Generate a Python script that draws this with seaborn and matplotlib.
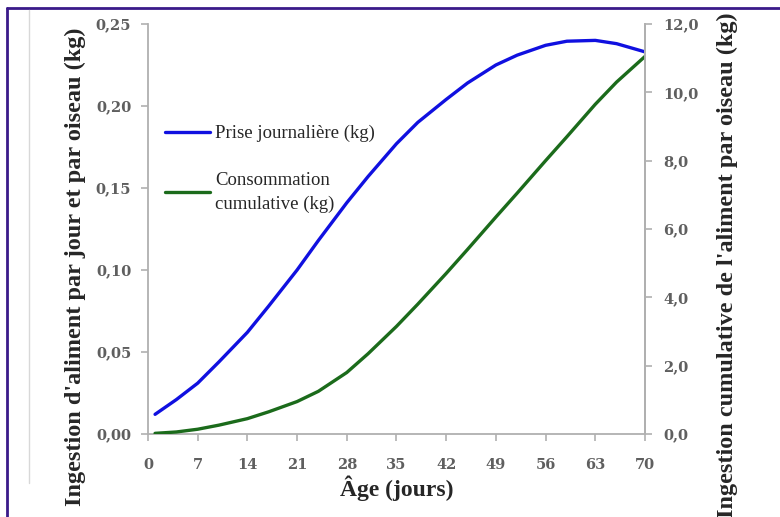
import pandas as pd
import matplotlib.pyplot as plt
import seaborn as sns
from matplotlib.lines import Line2D

# values
jours = [1, 4, 7, 10, 14, 17, 21, 24, 28, 31, 35, 38, 42, 45, 49, 52, 56, 59, 63, 66, 70]
prise_journaliere = [0.012, 0.021, 0.031, 0.044, 0.062, 0.078, 0.100, 0.118, 0.141, 0.157,
                     0.177, 0.190, 0.204, 0.214, 0.225, 0.231, 0.237, 0.2395, 0.240, 0.238, 0.233]
consommation_cumulative = [0.02, 0.06, 0.14, 0.26, 0.45, 0.65, 0.95, 1.25, 1.80, 2.35,
                           3.15, 3.80, 4.70, 5.40, 6.35, 7.05, 8.00, 8.70, 9.65, 10.30, 11.05]
x_ticks = [0, 7, 14, 21, 28, 35, 42, 49, 56, 63, 70]
y1_ticks = [0.00, 0.05, 0.10, 0.15, 0.20, 0.25]
y2_ticks = [0, 2, 4, 6, 8, 10, 12]

df = pd.DataFrame({"jours": jours, "prise": prise_journaliere, "cumul": consommation_cumulative})

sns.set_style("white")
plt.rcParams['font.family'] = ['Liberation Serif', 'DejaVu Serif']

grey = "#b0b0b0"
tick_grey = "#5f5f5f"

fig = plt.figure(figsize=(7.8, 5.17), dpi=100)
ax = fig.add_axes([0.1897, 0.1605, 0.6372, 0.7931])
ax2 = ax.twinx()

sns.lineplot(data=df, x="jours", y="prise", ax=ax, color="#1010e0", linewidth=2.4,
             label="Prise journalière (kg)", legend=False)
sns.lineplot(data=df, x="jours", y="cumul", ax=ax2, color="#1b6b1b", linewidth=2.4,
             label="Consommation\ncumulative (kg)", legend=False)

ax.set_xlim(0, 70)
ax.set_ylim(0, 0.25)
ax2.set_ylim(0, 12)
ax.set_xticks(x_ticks)
ax.set_yticks(y1_ticks)
ax2.set_yticks(y2_ticks)
ax.set_xticklabels([str(t) for t in x_ticks])
ax.set_yticklabels([f"{v:.2f}".replace(".", ",") for v in y1_ticks])
ax2.set_yticklabels([f"{v:.1f}".replace(".", ",") for v in y2_ticks])

for a in (ax, ax2):
    a.spines["top"].set_visible(False)
    for s in ("left", "right", "bottom"):
        a.spines[s].set_color(grey)
        a.spines[s].set_linewidth(1.3)
    a.tick_params(colors=grey, labelcolor=tick_grey, width=1.2)
    for lab in a.get_xticklabels() + a.get_yticklabels():
        lab.set_fontweight("bold")
        lab.set_fontfamily("DejaVu Serif")
        lab.set_fontsize(10.5)
ax.tick_params(axis="y", length=5, pad=7, left=True)
ax2.tick_params(axis="y", length=5, pad=8, right=True)
ax.tick_params(axis="x", direction="out", length=5, pad=12, bottom=True)
ax2.spines["left"].set_visible(False)
ax2.spines["bottom"].set_visible(False)

ax.set_xlabel("Âge (jours)", fontsize=17, fontweight="bold")
ax.set_ylabel("Ingestion d'aliment par jour et par oiseau (kg)", fontsize=17.5,
              fontweight="bold")
ax2.set_ylabel("Ingestion cumulative de l'aliment par oiseau (kg)", fontsize=17.5,
               fontweight="bold")
ax.xaxis.set_label_coords(0.5, -0.10)
ax.yaxis.set_label_coords(-0.125, 0.407)
ax2.yaxis.set_label_coords(1.145, 0.412)

h1, l1 = ax.get_legend_handles_labels()
h2, l2 = ax2.get_legend_handles_labels()
leg = ax.legend(h1 + h2, l1 + l2, loc="upper left", bbox_to_anchor=(0.0, 0.795), frameon=False,
                fontsize=13.5, handlelength=2.4, handletextpad=0.3, labelspacing=1.6)
for t in leg.get_texts():
    t.set_linespacing(1.45)

# purple frame on the top and left edges, faint grey guide on the left
fig.add_artist(Line2D([0.009, 1.0], [0.985, 0.985], color="#3a1a8a", linewidth=2))
fig.add_artist(Line2D([0.009, 0.009], [0.0, 0.985], color="#3a1a8a", linewidth=2))
fig.add_artist(Line2D([0.037, 0.037], [0.066, 0.98], color="#d8d8d8", linewidth=1))

fig.savefig("out.png", dpi=100)
